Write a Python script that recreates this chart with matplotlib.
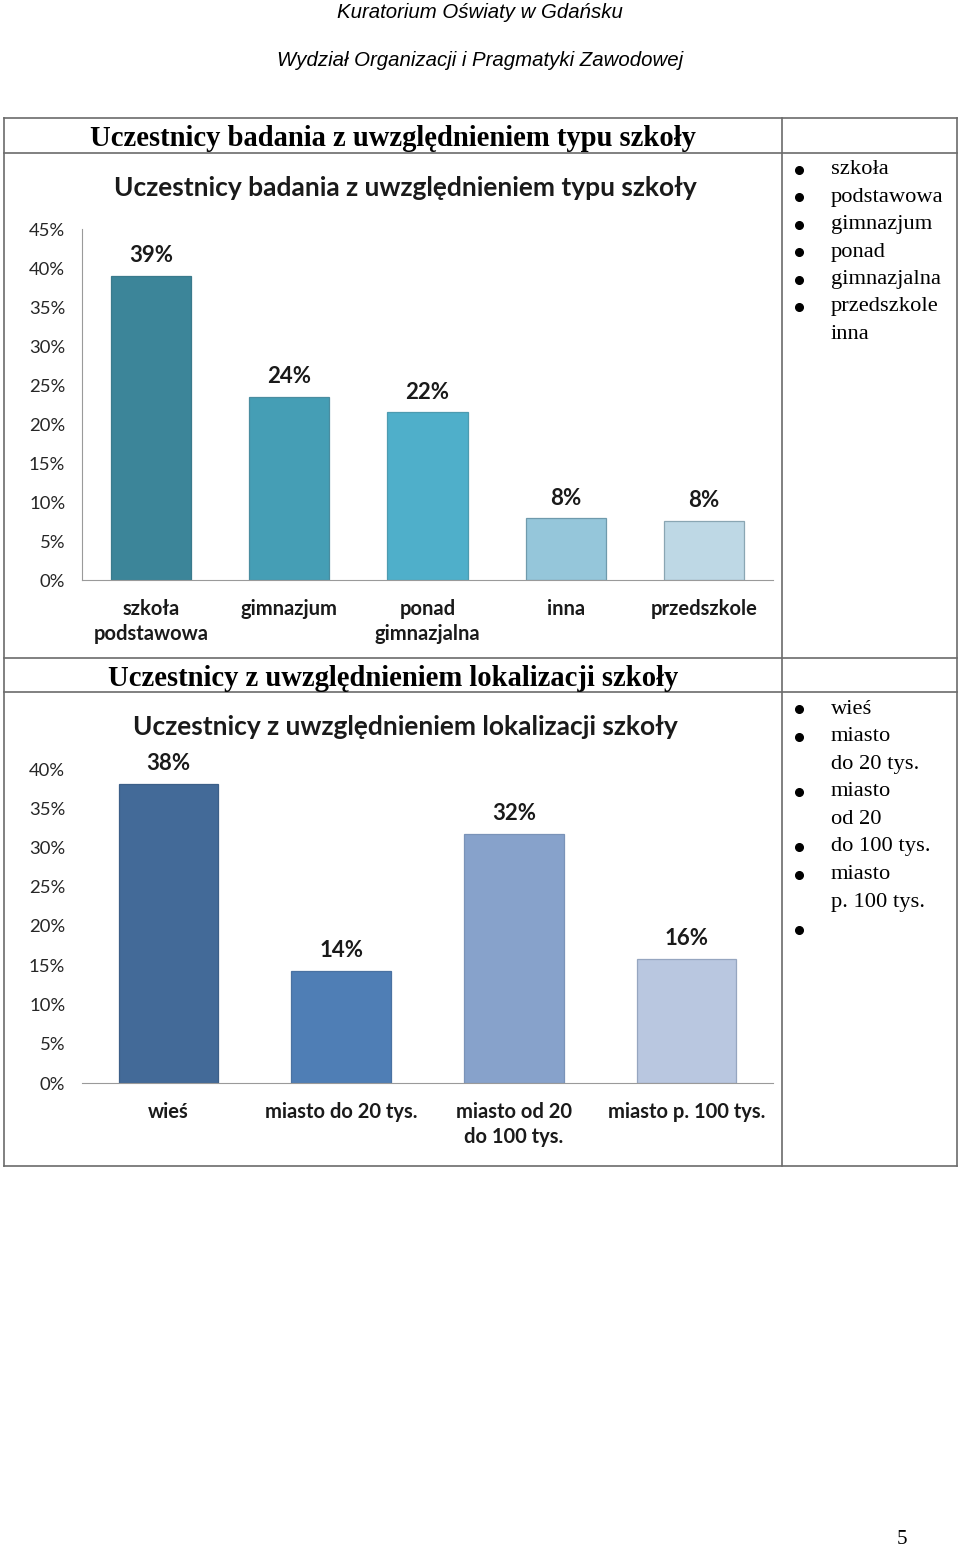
import matplotlib
matplotlib.use('Agg')
import matplotlib.pyplot as plt

# chart 1: typ szkoły
typ_labels = ['szkoła\npodstawowa', 'gimnazjum', 'ponad\ngimnazjalna', 'inna', 'przedszkole']
typ_values = [39.0, 23.5, 21.5, 7.9, 7.6]
typ_colors = ['#3c8599', '#459eb5', '#4fafca', '#95c6da', '#bed8e5']
typ_edges = ['#3a7a8c', '#4a8da0', '#4d9bb0', '#6f9aac', '#8aa6b3']
typ_ticks = [0, 5, 10, 15, 20, 25, 30, 35, 40, 45]
typ_legend = [('szkoła', True), ('podstawowa', True), ('gimnazjum', True), ('ponad', True),
              ('gimnazjalna', True), ('przedszkole', True), ('inna', False)]

# chart 2: lokalizacja szkoły
lok_labels = ['wieś', 'miasto do 20 tys.', 'miasto od 20\ndo 100 tys.', 'miasto p. 100 tys.']
lok_values = [38.1, 14.3, 31.7, 15.8]
lok_colors = ['#436a98', '#4f7eb5', '#87a2cb', '#b9c7e0']
lok_edges = ['#3c5f88', '#4a72a2', '#7a93b8', '#96a6c0']
lok_ticks = [0, 5, 10, 15, 20, 25, 30, 35, 40]
lok_legend = [('wieś', True), ('miasto', True), ('do 20 tys.', False), ('miasto', True),
              ('od 20', False), ('do 100 tys.', True), ('miasto', True), ('p. 100 tys.', False), ('', True)]

W, H = 960, 1550
fig = plt.figure(figsize=(W / 100, H / 100), dpi=100)
bg = fig.add_axes([0, 0, 1, 1])
bg.set_xlim(0, W)
bg.set_ylim(H, 0)
bg.axis('off')

sans_it = dict(family='Liberation Sans', style='italic', fontsize=14.7)
bg.text(480, 12, 'Kuratorium Oświaty w Gdańsku', ha='center', va='center', **sans_it)
bg.text(480, 60, 'Wydział Organizacji i Pragmatyki Zawodowej', ha='center', va='center', **sans_it)
bg.text(902, 1540, '5', ha='center', va='center', family='Liberation Serif', fontsize=15)

# table grid
lc = '#6b6b6b'
for y in [118, 153, 658, 692, 1166]:
    bg.plot([4, 957], [y, y], color=lc, lw=1.2)
for x in [4, 782, 957]:
    bg.plot([x, x], [118, 1166], color=lc, lw=1.2)

serif_b = dict(family='Liberation Serif', weight='bold', fontsize=20.6)
bg.text(393, 139, 'Uczestnicy badania z uwzględnieniem typu szkoły', ha='center', va='center', **serif_b)
bg.text(393, 679, 'Uczestnicy z uwzględnieniem lokalizacji szkoły', ha='center', va='center', **serif_b)


def legend_list(items, y0, step):
    for i, (txt, bullet) in enumerate(items):
        y = y0 + i * step
        if bullet:
            bg.plot(799, y, 'o', color='black', ms=5.5)
        bg.text(831, y, txt, ha='left', va='center', family='Liberation Serif', fontsize=16.2)


legend_list(typ_legend, 170, 27.4)
legend_list(lok_legend, 709, 27.6)


def chart(rect, labels, values, colors, edges, ticks, width, title, title_y, show_left):
    ax = fig.add_axes([rect[0] / W, 1 - rect[3] / H, (rect[2] - rect[0]) / W, (rect[3] - rect[1]) / H])
    xs = range(len(values))
    ax.bar(xs, values, width=width, color=colors, edgecolor=edges, linewidth=0.9)
    for x, v in zip(xs, values):
        ax.annotate(f'{v:.0f}%', (x, v), xytext=(0, 7), textcoords='offset points',
                    ha='center', va='bottom', family='Lato', weight='bold', fontsize=16,
                    color='#1a1a1a', annotation_clip=False)
    ax.set_xlim(-0.5, len(values) - 0.5)
    ax.set_ylim(0, ticks[-1])
    ax.set_yticks(ticks)
    ax.set_yticklabels([f'{t}%' for t in ticks], family='Lato', fontsize=13.3, color='#262626')
    ax.set_xticks(list(xs))
    ax.set_xticklabels(labels, family='Lato', weight='bold', fontsize=14.5, color='#1a1a1a', linespacing=1.3)
    ax.tick_params(axis='y', length=0, pad=12)
    ax.tick_params(axis='x', length=0, pad=14)
    for s in ['top', 'right']:
        ax.spines[s].set_visible(False)
    ax.spines['left'].set_visible(show_left)
    ax.spines['left'].set_color('#9a9a9a')
    ax.spines['bottom'].set_color('#9a9a9a')
    for lab in ax.get_xticklabels():
        lab.set_verticalalignment('top')
    bg.text(405, title_y, title, ha='center', va='center', family='Lato', weight='bold', fontsize=19, color='#1a1a1a')
    return ax


chart((82, 229, 773, 580), typ_labels, typ_values, typ_colors, typ_edges, typ_ticks, 0.58,
      'Uczestnicy badania z uwzględnieniem typu szkoły', 188, True)
chart((82, 769, 773, 1083), lok_labels, lok_values, lok_colors, lok_edges, lok_ticks, 0.575,
      'Uczestnicy z uwzględnieniem lokalizacji szkoły', 727, False)

fig.savefig('out.png', dpi=100)
